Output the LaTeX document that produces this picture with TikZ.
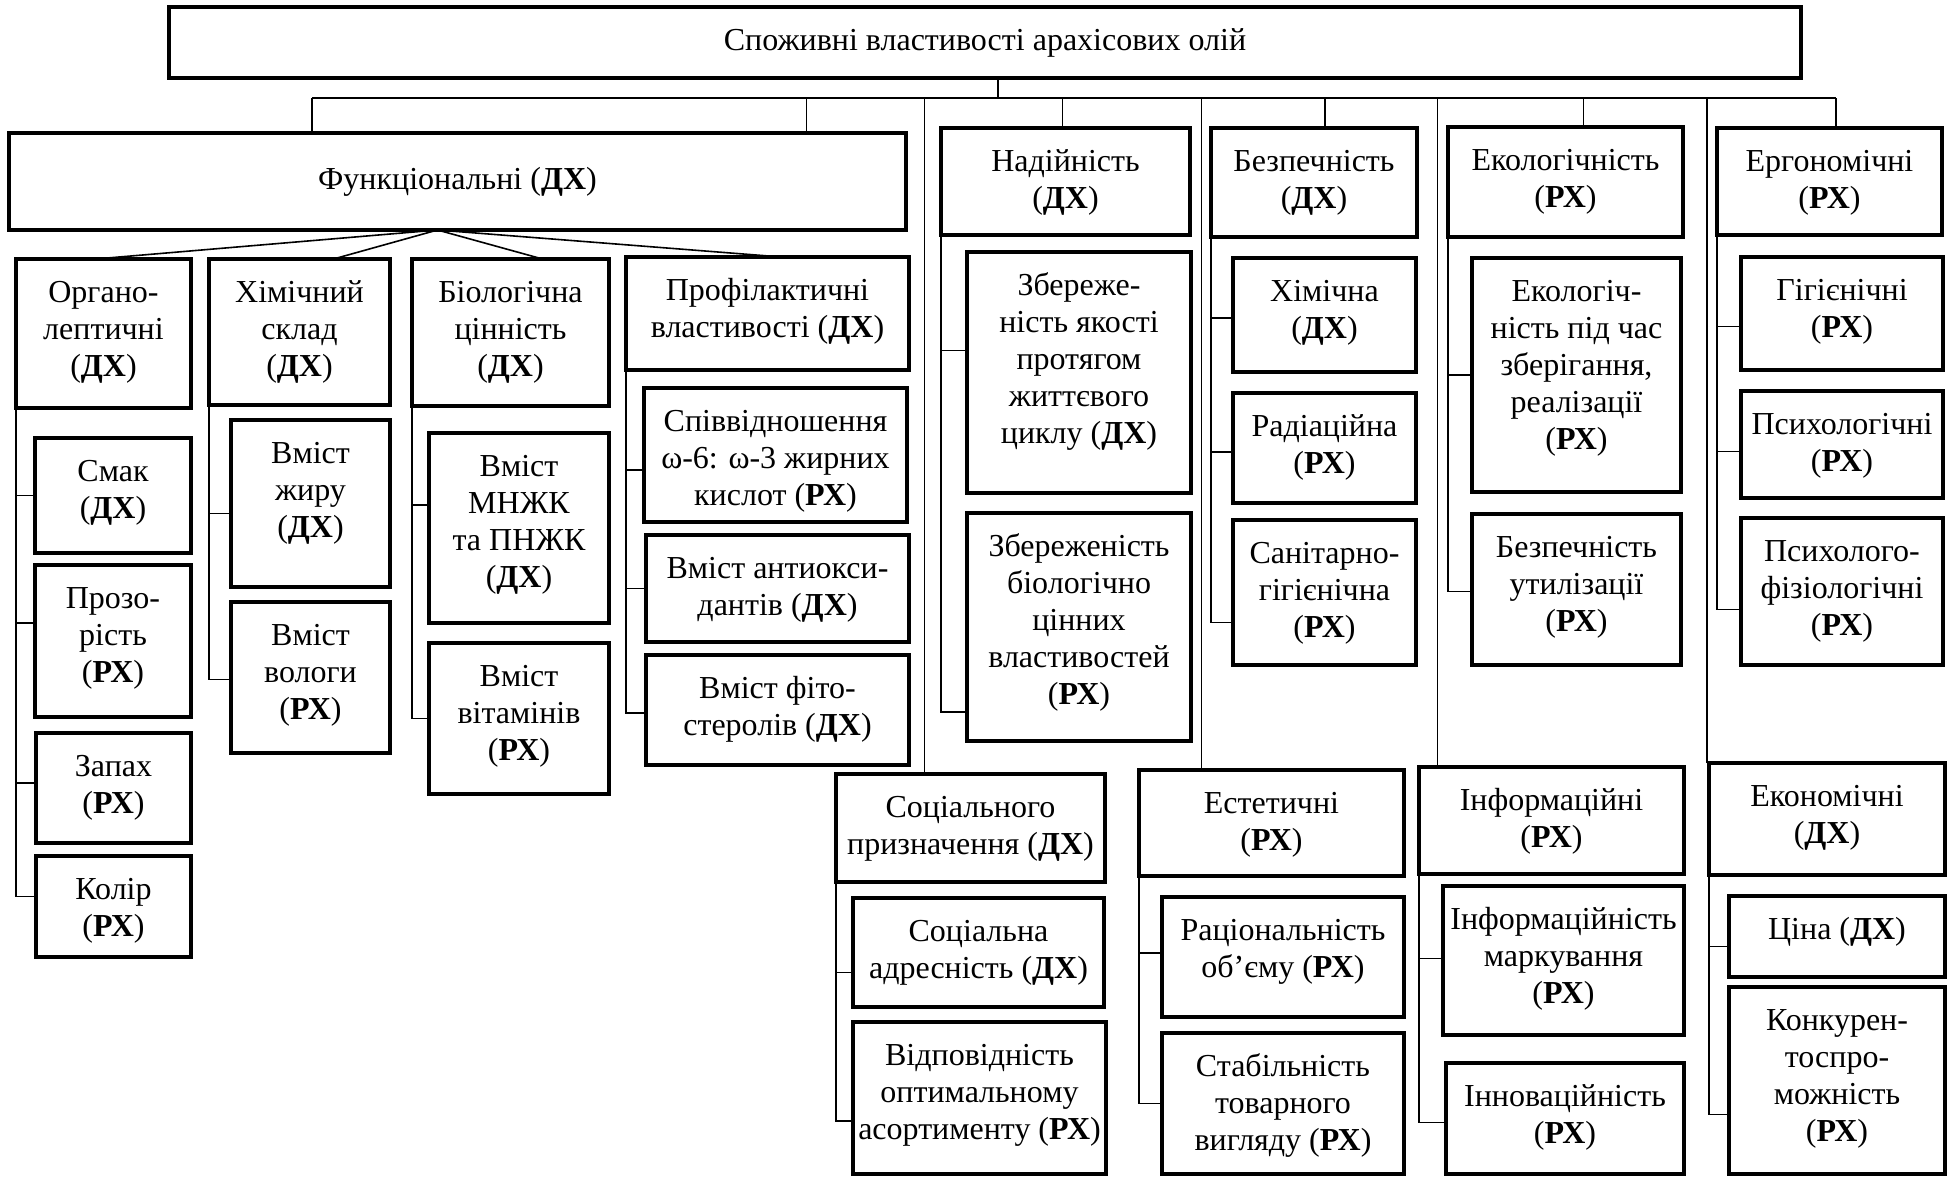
\documentclass[tikz,border=0pt]{standalone}
\usepackage{fontspec}
\setmainfont{Liberation Serif}
\usetikzlibrary{calc}
\tikzset{
  bx/.style={draw, line width=2.4pt, rectangle, inner sep=0pt, outer sep=0pt, anchor=north west},
  tx/.style={anchor=north, align=center, inner sep=0pt, font=\fontsize{16}{18.5}\selectfont},
  txc/.style={anchor=center, align=center, inner sep=0pt, font=\fontsize{16}{18.5}\selectfont},
  ln/.style={line width=0.8pt},
}
\newcommand\bx[6]{%
  \node[bx, minimum width={(#4-#2)*0.5pt}, minimum height={(#5-#3)*0.5pt}] (#1) at (#2,#3) {};
  \node[tx] (#1t) at ([yshift=-9.3pt]#1.north) {\rule{0pt}{12pt}#6};}
\newcommand\bxc[6]{%
  \node[bx, minimum width={(#4-#2)*0.5pt}, minimum height={(#5-#3)*0.5pt}] (#1) at (#2,#3) {};
  \node[txc] (#1t) at (#1.center) {#6};}
\newcommand\dx[1]{(\textbf{#1})}
\newcommand\stub[3]{\draw[ln] (#1.south west) |- ($(#2.west)+(0,#3)$);}
\begin{document}
\begin{tikzpicture}[x=0.5pt,y=-0.5pt]
\useasboundingbox (0,0) rectangle (1950,1178);
% top level
\bxc{top}{169}{7}{1801}{78}{Споживні властивості арахісових олій}
\bxc{func}{9}{133}{906}{230}{Функціональні \dx{ДХ}}
\bx{nad}{941}{128}{1190}{235}{Надійність\\\dx{ДХ}}
\bx{bez}{1211}{128}{1417}{237}{Безпечність\\\dx{ДХ}}
\bx{eko}{1448}{127}{1683}{237}{Екологічність\\\dx{РХ}}
\bx{erg}{1717}{128}{1942}{235}{Ергономічні\\\dx{РХ}}
\bx{soc}{836}{774}{1105}{882}{Соціального\\призначення \dx{ДХ}}
\bx{est}{1139}{770}{1404}{876}{Естетичні\\\dx{РХ}}
\bx{inf}{1419}{767}{1684}{874}{Інформаційні\\\dx{РХ}}
\bx{ekon}{1709}{763}{1945}{875}{Економічні\\\dx{ДХ}}
% functional children
\bx{org}{16}{259}{191}{408}{Органо-\\лептичні\\\dx{ДХ}}
\bx{him}{209}{259}{390}{405}{Хімічний\\склад\\\dx{ДХ}}
\bx{bio}{412}{259}{609}{406}{Біологічна\\цінність\\\dx{ДХ}}
\bx{prof}{626}{257}{909}{370}{Профілактичні\\властивості \dx{ДХ}}
\bx{smak}{35}{438}{191}{553}{Смак\\\dx{ДХ}}
\bx{prozo}{35}{565}{191}{717}{Прозо-\\рість\\\dx{РХ}}
\bx{zapah}{36}{733}{191}{843}{Запах\\\dx{РХ}}
\bx{kolir}{36}{856}{191}{957}{Колір\\\dx{РХ}}
\bx{zhyr}{231}{420}{390}{587}{Вміст\\жиру\\\dx{ДХ}}
\bx{volog}{231}{602}{390}{753}{Вміст\\вологи\\\dx{РХ}}
\bx{mnzhk}{429}{433}{609}{623}{Вміст\\МНЖК\\та ПНЖК\\\dx{ДХ}}
\bx{vitam}{429}{643}{609}{794}{Вміст\\вітамінів\\\dx{РХ}}
\bx{spiv}{644}{388}{907}{522}{Співвідношення\\ω-6: ω-3 жирних\\кислот \dx{РХ}}
\bx{antiox}{646}{535}{909}{642}{Вміст антиокси-\\дантів \dx{ДХ}}
\bx{fito}{646}{655}{909}{765}{Вміст фіто-\\стеролів \dx{ДХ}}
% reliability
\bx{zber}{967}{252}{1191}{493}{Збереже-\\ність якості\\протягом\\життєвого\\циклу \dx{ДХ}}
\bx{zberb}{967}{513}{1191}{741}{Збереженість\\біологічно\\цінних\\властивостей\\\dx{РХ}}
% safety
\bx{himb}{1233}{258}{1416}{372}{Хімічна\\\dx{ДХ}}
\bx{rad}{1233}{393}{1416}{503}{Радіаційна\\\dx{РХ}}
\bx{san}{1233}{520}{1416}{665}{Санітарно-\\гігієнічна\\\dx{РХ}}
% ecology
\bx{ekoa}{1472}{258}{1681}{492}{Екологіч-\\ність під час\\зберігання,\\реалізації\\\dx{РХ}}
\bx{ekob}{1472}{514}{1681}{665}{Безпечність\\утилізації\\\dx{РХ}}
% ergonomic
\bx{gig}{1741}{257}{1943}{370}{Гігієнічні\\\dx{РХ}}
\bx{psy}{1741}{391}{1943}{498}{Психологічні\\\dx{РХ}}
\bx{psf}{1741}{518}{1943}{665}{Психолого-\\фізіологічні\\\dx{РХ}}
% social
\bx{adr}{853}{898}{1104}{1007}{Соціальна\\адресність \dx{ДХ}}
\bx{vidp}{853}{1022}{1106}{1174}{Відповідність\\оптимальному\\асортименту \dx{РХ}}
% aesthetic
\bx{rac}{1162}{897}{1404}{1017}{Раціональність\\об’єму \dx{РХ}}
\bx{stab}{1162}{1033}{1404}{1174}{Стабільність\\товарного\\вигляду \dx{РХ}}
% information
\bx{mark}{1443}{886}{1684}{1035}{Інформаційність\\маркування\\\dx{РХ}}
\bx{inn}{1446}{1063}{1684}{1174}{Інноваційність\\\dx{РХ}}
% economic
\bx{cina}{1729}{896}{1945}{977}{Ціна \dx{ДХ}}
\bx{konk}{1729}{987}{1945}{1174}{Конкурен-\\тоспро-\\можність\\\dx{РХ}}
% bus
\coordinate (busL) at (312,98);
\coordinate (busR) at (1836,98);
\draw[ln] (busL) -- (busR);
\coordinate (topB) at ($(top.south)+(13,0)$);
\draw[ln] (topB) -- (topB |- busL);
\draw[ln] (busL) -- (busL |- func.north);
\coordinate (funcB) at ($(func.north)+(349,0)$);
\draw[ln] (funcB) -- (funcB |- busL);
\coordinate (nadT) at ($(nad.north)+(-3,0)$);
\draw[ln] (nadT) -- (nadT |- busL);
\coordinate (bezT) at ($(bez.north)+(11,0)$);
\draw[ln] (bezT) -- (bezT |- busL);
\coordinate (ekoT) at ($(eko.north)+(18,0)$);
\draw[ln] (ekoT) -- (ekoT |- busL);
\draw[ln] (busR) -- (busR |- erg.north);
\coordinate (socT) at ($(soc.north)+(-46,0)$);
\draw[ln] (socT) -- (socT |- busL);
\coordinate (estT) at ($(est.north)+(-70,0)$);
\draw[ln] (estT) -- (estT |- busL);
\coordinate (infT) at ($(inf.north)+(-114,0)$);
\draw[ln] (infT) -- (infT |- busL);
\coordinate (ekonT) at ($(ekon.north west)+(-2,0)$);
\draw[ln] (ekonT) -- (ekonT |- busL);
% fan from functional
\coordinate (apex) at ($(func.south)+(-20,0)$);
\draw[ln] (apex) -- ($(org.north)+(-8,0)$);
\draw[ln] (apex) -- ($(him.north)+(34,0)$);
\draw[ln] (apex) -- ($(bio.north)+(32,0)$);
\draw[ln] (apex) -- ($(prof.north)+(14,0)$);
% trees
\stub{org}{smak}{0}\stub{org}{prozo}{-18}\stub{org}{zapah}{-5}\stub{org}{kolir}{-10}
\stub{him}{zhyr}{10}\stub{him}{volog}{2}
\stub{bio}{mnzhk}{-23}\stub{bio}{vitam}{0}
\stub{prof}{spiv}{15}\stub{prof}{antiox}{0}\stub{prof}{fito}{3}
\stub{nad}{zber}{-22}\stub{nad}{zberb}{85}
\stub{bez}{himb}{3}\stub{bez}{rad}{4}\stub{bez}{san}{30}
\stub{eko}{ekoa}{0}\stub{eko}{ekob}{2}
\stub{erg}{gig}{13}\stub{erg}{psy}{7}\stub{erg}{psf}{18}
\stub{soc}{adr}{20}\stub{soc}{vidp}{23}
\stub{est}{rac}{-4}\stub{est}{stab}{0}
\stub{inf}{mark}{-2}\stub{inf}{inn}{4}
\stub{ekon}{cina}{10}\stub{ekon}{konk}{34}
\end{tikzpicture}
\end{document}
